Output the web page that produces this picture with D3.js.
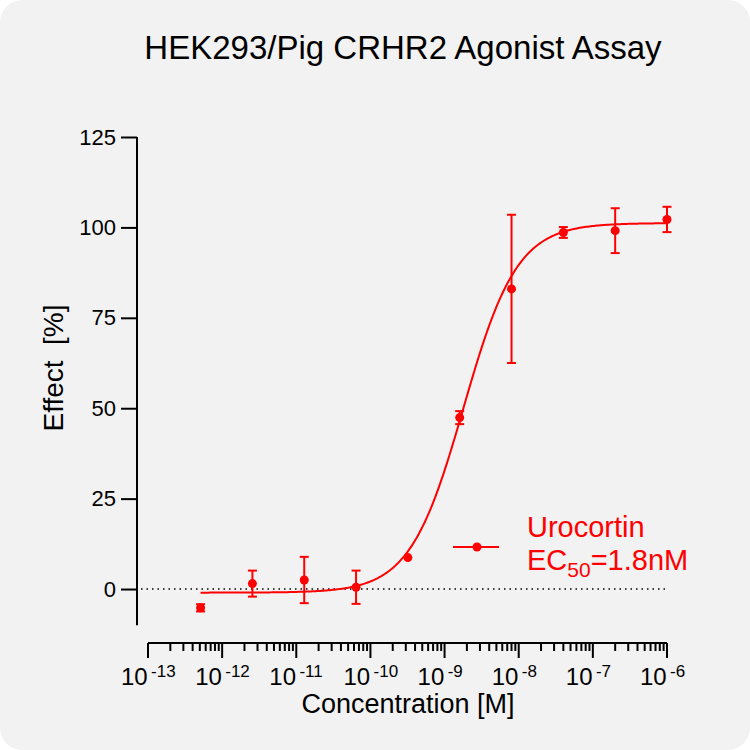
<!DOCTYPE html>
<html>
<head>
<meta charset="utf-8">
<script src="https://cdn.jsdelivr.net/npm/d3@7"></script>
<style>
  html, body { margin: 0; padding: 0; background: #ffffff; }
  svg text { font-family: "Liberation Sans", Arial, sans-serif; }
</style>
</head>
<body>
<div id="graph"></div>
<script>
// data
const concentrations = [5.12e-13, 2.56e-12, 1.28e-11, 6.4e-11, 3.2e-10, 1.6e-9, 8e-9, 4e-8, 2e-7, 1e-6];
const effects = [-5.2, 1.5, 2.5, 0.5, 8.7, 47.4, 83.0, 98.6, 99.1, 102.2];
const errors = [1.0, 3.6, 6.4, 4.6, 0, 1.8, 20.5, 1.5, 6.2, 3.5];
const yTicks = [0, 25, 50, 75, 100, 125];
const xDecades = [-13, -12, -11, -10, -9, -8, -7, -6];

// 4PL fit parameters
const FIT = { bottom: -1.0, top: 101.2, logEC50: Math.log10(1.8e-9), hill: 1.2 };

const W = 750, H = 750;
const RED = "#ff0000";

const svg = d3.select("#graph").append("svg")
  .attr("width", W).attr("height", H);

svg.append("rect")
  .attr("width", W).attr("height", H)
  .attr("rx", 22).attr("ry", 22)
  .attr("fill", "#f2f2f2");

const x = d3.scaleLog().domain([1e-13, 1e-6]).range([148, 667]);
const y = d3.scaleLinear().domain([-10, 125]).range([625.2, 137]);

// title
svg.append("text")
  .attr("x", 403).attr("y", 59)
  .attr("text-anchor", "middle")
  .style("font-size", "33px")
  .text("HEK293/Pig CRHR2 Agonist Assay");

// y axis
const yAxis = d3.axisLeft(y).tickValues(yTicks).tickSize(16).tickPadding(5);
const gy = svg.append("g")
  .attr("transform", "translate(137,0)")
  .call(yAxis);
gy.select(".domain").attr("stroke", "#000").attr("stroke-width", 2)
  .attr("d", `M0,${y(-10)}V${y(125)}`);
gy.selectAll(".tick line").attr("stroke-width", 2);
gy.selectAll(".tick text").style("font-size", "22px").attr("fill", "#000")
  .attr("font-family", "Liberation Sans, Arial, sans-serif");

svg.append("text")
  .attr("transform", "translate(63,368) rotate(-90)")
  .attr("text-anchor", "middle")
  .style("font-size", "28px")
  .attr("xml:space", "preserve")
  .text("Effect  [%]");

// x axis with log minor ticks
const minorTicks = [];
xDecades.slice(0, -1).forEach(p => {
  for (let m = 2; m <= 9; m++) minorTicks.push(m * Math.pow(10, p));
});
const axisY = 643;
const gx = svg.append("g").attr("transform", `translate(0,${axisY})`);
gx.append("path")
  .attr("d", `M${x(1e-13)},0H${x(1e-6)}`)
  .attr("stroke", "#000").attr("stroke-width", 2);
gx.selectAll(".minor").data(minorTicks).join("line")
  .attr("class", "minor")
  .attr("x1", d => x(d)).attr("x2", d => x(d))
  .attr("y1", 0).attr("y2", 8)
  .attr("stroke", "#000").attr("stroke-width", 2);
gx.selectAll(".major").data(xDecades).join("line")
  .attr("class", "major")
  .attr("x1", d => x(Math.pow(10, d))).attr("x2", d => x(Math.pow(10, d)))
  .attr("y1", 0).attr("y2", 15)
  .attr("stroke", "#000").attr("stroke-width", 2);
const lbl = gx.selectAll(".xlbl").data(xDecades).join("text")
  .attr("class", "xlbl")
  .attr("x", d => x(Math.pow(10, d)) - 27)
  .attr("y", 42)
  .attr("text-anchor", "start")
  .style("font-size", "24px");
lbl.append("tspan").text("10");
lbl.append("tspan")
  .attr("dy", -8)
  .style("font-size", "17px")
  .text(d => "\u2009" + "-" + Math.abs(d));

svg.append("text")
  .attr("x", 408).attr("y", 713)
  .attr("text-anchor", "middle")
  .style("font-size", "27px")
  .text("Concentration [M]");

// dotted zero line
svg.append("line")
  .attr("x1", 141).attr("x2", 666)
  .attr("y1", y(0)).attr("y2", y(0))
  .attr("stroke", "#000").attr("stroke-width", 1.5)
  .attr("stroke-dasharray", "1.5,4");

// fitted curve
const fit = c => FIT.bottom + (FIT.top - FIT.bottom) / (1 + Math.pow(10, (FIT.logEC50 - Math.log10(c)) * FIT.hill));
const curvePts = d3.range(0, 301).map(i => {
  const lc = Math.log10(concentrations[0]) + i / 300 * (Math.log10(1e-6) - Math.log10(concentrations[0]));
  return Math.pow(10, lc);
});
svg.append("path")
  .datum(curvePts)
  .attr("fill", "none")
  .attr("stroke", RED).attr("stroke-width", 2)
  .attr("d", d3.line().x(d => x(d)).y(d => y(fit(d))));

// error bars
const pts = concentrations.map((c, i) => ({ c, v: effects[i], e: errors[i] }));
const eb = svg.append("g").attr("stroke", RED).attr("stroke-width", 2);
eb.selectAll(".ev").data(pts.filter(d => d.e > 0)).join("line")
  .attr("x1", d => x(d.c)).attr("x2", d => x(d.c))
  .attr("y1", d => y(d.v - d.e)).attr("y2", d => y(d.v + d.e));
eb.selectAll(".ct").data(pts.filter(d => d.e > 0)).join("line")
  .attr("x1", d => x(d.c) - 4.5).attr("x2", d => x(d.c) + 4.5)
  .attr("y1", d => y(d.v + d.e)).attr("y2", d => y(d.v + d.e));
eb.selectAll(".cb").data(pts.filter(d => d.e > 0)).join("line")
  .attr("x1", d => x(d.c) - 4.5).attr("x2", d => x(d.c) + 4.5)
  .attr("y1", d => y(d.v - d.e)).attr("y2", d => y(d.v - d.e));

svg.selectAll(".pt").data(pts).join("circle")
  .attr("cx", d => x(d.c)).attr("cy", d => y(d.v))
  .attr("r", 4.5).attr("fill", RED);

// legend
const lg = svg.append("g");
lg.append("line").attr("x1", 453).attr("x2", 499).attr("y1", 547).attr("y2", 547)
  .attr("stroke", RED).attr("stroke-width", 2);
lg.append("circle").attr("cx", 477).attr("cy", 547).attr("r", 4.5).attr("fill", RED);
lg.append("text").attr("x", 527).attr("y", 537)
  .style("font-size", "29px").attr("fill", RED).text("Urocortin");
const ec = lg.append("text").attr("x", 527).attr("y", 570)
  .style("font-size", "29px").attr("fill", RED);
ec.append("tspan").text("EC");
ec.append("tspan").attr("dy", 7).style("font-size", "21px").text("50");
ec.append("tspan").attr("dy", -7).text("=1.8nM");
</script>
</body>
</html>
